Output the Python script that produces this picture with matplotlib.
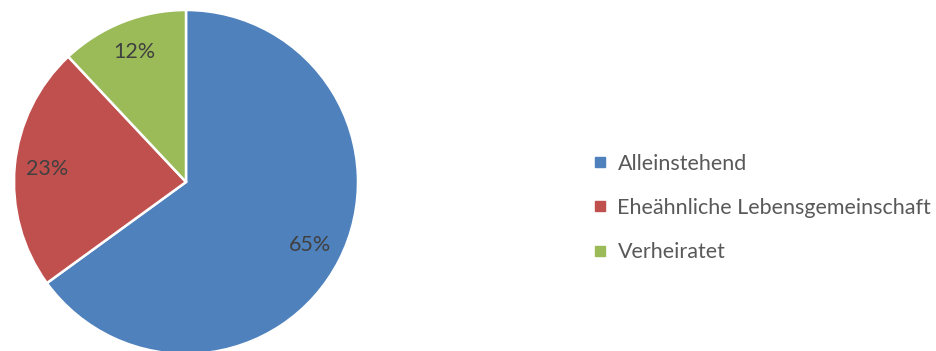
import matplotlib.pyplot as plt
from matplotlib.lines import Line2D

labels = ['Alleinstehend', 'Eheähnliche Lebensgemeinschaft', 'Verheiratet']
shares = [65, 23, 12]
colors = ['#4F81BD', '#C0504D', '#9BBB59']

plt.rcParams['font.family'] = ['Lato', 'DejaVu Sans']
text_color = '#404040'
legend_color = '#595959'

fig = plt.figure(figsize=(9.36, 3.51), dpi=100)
ax = fig.add_axes([0, 0, 1, 1])

wedges, _, autotexts = ax.pie(
    shares, colors=colors, center=(186, 169), radius=172,
    startangle=90, counterclock=False,
    autopct='%1.0f%%', pctdistance=0.81,
    wedgeprops=dict(edgecolor='white', linewidth=1.8),
    textprops=dict(color=text_color, fontsize=15.5),
    frame=True,
)
ax.set_xlim(0, 936)
ax.set_ylim(0, 351)
ax.set_aspect('equal')
ax.axis('off')

handles = [Line2D([0], [0], marker='s', linestyle='none', markersize=6.5,
                  markerfacecolor=c, markeredgecolor=c) for c in colors]
leg = ax.legend(handles, labels, loc='center left',
                bbox_to_anchor=(583, 143), bbox_transform=ax.transData,
                frameon=False, borderpad=0, handlelength=0.6,
                handletextpad=0.5, labelspacing=1.12, fontsize=15.5)
for t in leg.get_texts():
    t.set_color(legend_color)

fig.savefig('out.png', dpi=100)
